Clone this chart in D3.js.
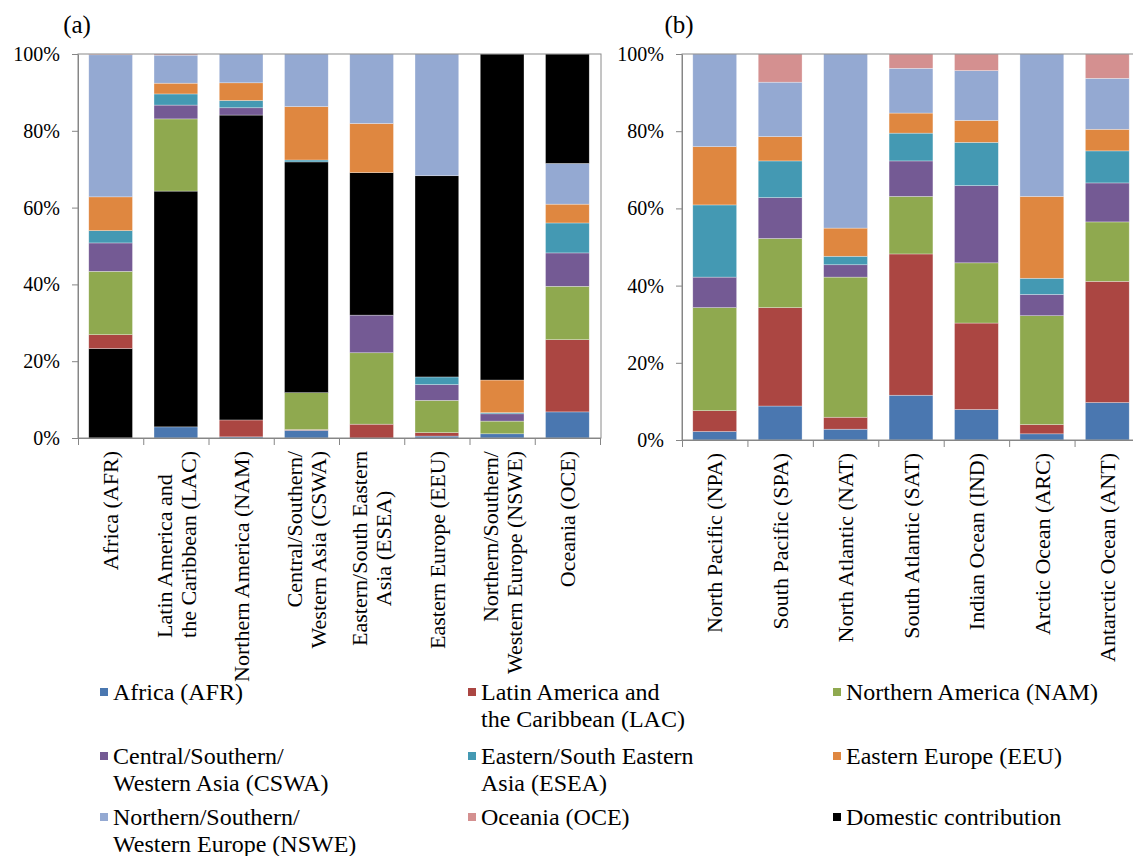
<!DOCTYPE html>
<html>
<head>
<meta charset="utf-8">
<script src="https://cdn.jsdelivr.net/npm/d3@7/dist/d3.min.js"></script>
<style>
body { margin: 0; background: #fff; }
</style>
</head>
<body>
<svg id="chart" width="1133" height="856"></svg>
<script>
'use strict';

// source regions, in stacking order (bottom to top)
var sourceKeys = ['AFR', 'LAC', 'NAM', 'CSWA', 'ESEA', 'EEU', 'NSWE', 'OCE'];

var regionLabels = [
  ['Africa (AFR)'],
  ['Latin America and', 'the Caribbean (LAC)'],
  ['Northern America (NAM)'],
  ['Central/Southern/', 'Western Asia (CSWA)'],
  ['Eastern/South Eastern', 'Asia (ESEA)'],
  ['Eastern Europe (EEU)'],
  ['Northern/Southern/', 'Western Europe (NSWE)'],
  ['Oceania (OCE)']
];
var oceanLabels = [
  'North Pacific (NPA)', 'South Pacific (SPA)', 'North Atlantic (NAT)', 'South Atlantic (SAT)',
  'Indian Ocean (IND)', 'Arctic Ocean (ARC)', 'Antarctic Ocean (ANT)'
];
var yTicks = [0, 20, 40, 60, 80, 100];

// (a) receptor regions: share (%) from each source; the diagonal is the domestic contribution
var regAFR  = [23.3, 2.9, 0.3, 2.0, 0.0, 0.5, 1.1, 6.8];
var regLAC  = [3.6, 61.4, 4.4, 0.2, 3.6, 0.9, 0.0, 18.8];
var regNAM  = [16.5, 18.8, 79.4, 9.6, 18.6, 8.4, 3.3, 13.9];
var regCSWA = [7.4, 3.6, 1.9, 60.1, 9.8, 4.1, 1.9, 8.7];
var regESEA = [3.2, 2.9, 1.9, 0.5, 37.1, 2.0, 0.3, 7.8];
var regEEU  = [8.8, 2.8, 4.6, 13.9, 12.8, 52.4, 8.5, 4.9];
var regNSWE = [37.0, 7.3, 7.5, 13.7, 18.1, 31.7, 84.9, 10.6];
var regOCE  = [0.2, 0.3, 0.0, 0.0, 0.0, 0.0, 0.0, 28.5];

// (b) receptor oceans
var ocnAFR  = [2.2, 8.8, 2.8, 11.6, 7.9, 1.6, 9.7];
var ocnLAC  = [5.4, 25.5, 3.1, 36.6, 22.4, 2.4, 31.4];
var ocnNAM  = [26.7, 17.9, 36.3, 14.9, 15.6, 28.2, 15.4];
var ocnCSWA = [7.9, 10.6, 3.2, 9.2, 20.0, 5.5, 10.1];
var ocnESEA = [18.7, 9.5, 2.2, 7.2, 11.2, 4.2, 8.3];
var ocnEEU  = [15.1, 6.3, 7.3, 5.2, 5.7, 21.2, 5.6];
var ocnNSWE = [24.0, 14.1, 45.1, 11.6, 12.9, 36.9, 13.2];
var ocnOCE  = [0.0, 7.3, 0.0, 3.7, 4.3, 0.0, 6.3];

var colors = {
  AFR: '#4a77b0', LAC: '#ab4642', NAM: '#8fa94f', CSWA: '#745a94',
  ESEA: '#4499b3', EEU: '#df8740', NSWE: '#94a9d2', OCE: '#d49090', DOM: '#000000'
};

// find a serif face that is really installed (canvas width differs from the monospace fallback)
function pickFont(list) {
  var ctx = document.createElement('canvas').getContext('2d');
  var probe = 'Africa (AFR) 100% Wmil';
  ctx.font = '40px monospace';
  var base = ctx.measureText(probe).width;
  for (var i = 0; i < list.length; i++) {
    ctx.font = '40px "' + list[i] + '", monospace';
    if (Math.abs(ctx.measureText(probe).width - base) > 0.5) { return list[i]; }
  }
  return null;
}
var face = pickFont(['Liberation Serif', 'Times New Roman', 'Tinos', 'DejaVu Serif', 'Noto Serif', 'FreeSerif']);
var serif = face ? '"' + face + '", serif' : 'serif';

var svg = d3.select('#chart').style('font-family', serif);

function buildRows(series, n) {
  return d3.range(n).map(function(i) {
    var row = { idx: i };
    sourceKeys.forEach(function(k, j) { row[k] = series[j][i]; });
    return row;
  });
}

function drawPanel(opt) {
  var n = opt.labels.length;
  var x = d3.scaleBand().domain(d3.range(n)).range([opt.x0, opt.x1]).paddingInner(0.33).paddingOuter(0.165);
  var y = d3.scaleLinear().domain([0, 100]).range([opt.y0, opt.y1]);
  var stack = d3.stack().keys(sourceKeys)(opt.rows);

  var g = svg.append('g');

  g.selectAll('g.layer')
  .data(stack)
  .enter().append('g')
  .attr('class', 'layer')
  .each(function(layer, j) {
    d3.select(this).selectAll('rect')
    .data(layer)
    .enter().append('rect')
    .attr('x', function(d) { return x(d.data.idx); })
    .attr('width', x.bandwidth())
    .attr('y', function(d) { return y(d[1]); })
    .attr('height', function(d) { return Math.max(0, y(d[0]) - y(d[1])); })
    .attr('fill', function(d) {
      return (opt.domestic && d.data.idx === j) ? colors.DOM : colors[layer.key];
    })
    .attr('stroke', '#fff')
    .attr('stroke-opacity', 0.5)
    .attr('stroke-width', 0.6);
  });

  // plot area border
  g.append('rect')
  .attr('x', opt.x0).attr('y', opt.y1)
  .attr('width', opt.x1 - opt.x0 + 1).attr('height', opt.y0 - opt.y1)
  .attr('fill', 'none').attr('stroke', '#8a8a8a').attr('stroke-width', 1);

  var yAxis = g.append('g')
  .attr('transform', 'translate(' + opt.x0 + ',0)')
  .call(d3.axisLeft(y).tickValues(yTicks).tickSize(6).tickSizeOuter(0).tickPadding(12)
    .tickFormat(function(d) { return d + '%'; }));
  yAxis.attr('font-family', serif);
  yAxis.selectAll('path, line').attr('stroke', '#868686');
  yAxis.selectAll('text').attr('font-size', 20).style('font-family', serif).attr('fill', '#000');

  var xb = d3.scaleLinear().domain([0, n]).range([opt.x0, opt.x1]);
  var xAxis = g.append('g')
  .attr('transform', 'translate(0,' + opt.y0 + ')')
  .call(d3.axisBottom(xb).tickValues(d3.range(n + 1)).tickSize(7).tickSizeOuter(0).tickFormat(''));
  xAxis.selectAll('path, line').attr('stroke', '#868686');

  // rotated category labels
  var lineGap = 24;
  g.selectAll('g.cat')
  .data(opt.labels)
  .enter().append('g')
  .attr('class', 'cat')
  .attr('transform', function(d, i) {
    return 'translate(' + (x(i) + x.bandwidth() / 2) + ',' + (opt.y0 + 13) + ') rotate(-90)';
  })
  .each(function(lines, i) {
    var sel = d3.select(this);
    var texts = sel.selectAll('text')
    .data(lines)
    .enter().append('text')
    .style('font-family', serif)
    .attr('font-size', 22)
    .attr('text-anchor', 'end')
    .attr('x', 0)
    .attr('y', function(d, k) { return (k - (lines.length - 1) / 2) * lineGap; })
    .attr('dy', '0.35em')
    .text(function(d) { return d; });
    var len = d3.max(texts.nodes(), function(t) { return t.getComputedTextLength(); });
    var align = opt.align[i];
    if (align === 'start') {
      texts.attr('text-anchor', 'start').attr('x', -len);
    } else if (align === 'middle') {
      texts.attr('text-anchor', 'middle').attr('x', -len / 2);
    }
  });

  svg.append('text')
  .attr('x', opt.tagX).attr('y', 33)
  .style('font-family', serif)
  .attr('font-size', 25)
  .attr('text-anchor', 'middle')
  .text(opt.tag);
}

drawPanel({
  rows: buildRows([regAFR, regLAC, regNAM, regCSWA, regESEA, regEEU, regNSWE, regOCE], regionLabels.length),
  labels: regionLabels,
  align: { 1: 'start', 4: 'middle' },
  domestic: true,
  x0: 78, x1: 600, y0: 438, y1: 54,
  tag: '(a)', tagX: 77
});

drawPanel({
  rows: buildRows([ocnAFR, ocnLAC, ocnNAM, ocnCSWA, ocnESEA, ocnEEU, ocnNSWE, ocnOCE], oceanLabels.length),
  labels: oceanLabels.map(function(s) { return [s]; }),
  align: {},
  domestic: false,
  x0: 682, x1: 1140, y0: 440, y1: 54,
  tag: '(b)', tagX: 679
});

// legend, 3 columns, row-major
var legendItems = sourceKeys.map(function(k, i) { return { key: k, lines: regionLabels[i] }; })
  .concat([{ key: 'DOM', lines: ['Domestic contribution'] }]);
var legendCols = [100, 468, 833];
var legendRows = [692, 756, 817];

var leg = svg.append('g').selectAll('g')
.data(legendItems)
.enter().append('g')
.attr('transform', function(d, i) {
  return 'translate(' + legendCols[i % 3] + ',' + legendRows[Math.floor(i / 3)] + ')';
});

leg.append('rect')
.attr('x', 0).attr('y', -4)
.attr('width', 8).attr('height', 8)
.attr('fill', function(d) { return colors[d.key]; });

leg.each(function(d) {
  d3.select(this).selectAll('text')
  .data(d.lines)
  .enter().append('text')
  .style('font-family', serif)
  .attr('x', 13)
  .attr('y', function(t, k) { return k * 27; })
  .attr('dy', '0.35em')
  .attr('font-size', 24)
  .text(function(t) { return t; });
});
</script>
</body>
</html>
